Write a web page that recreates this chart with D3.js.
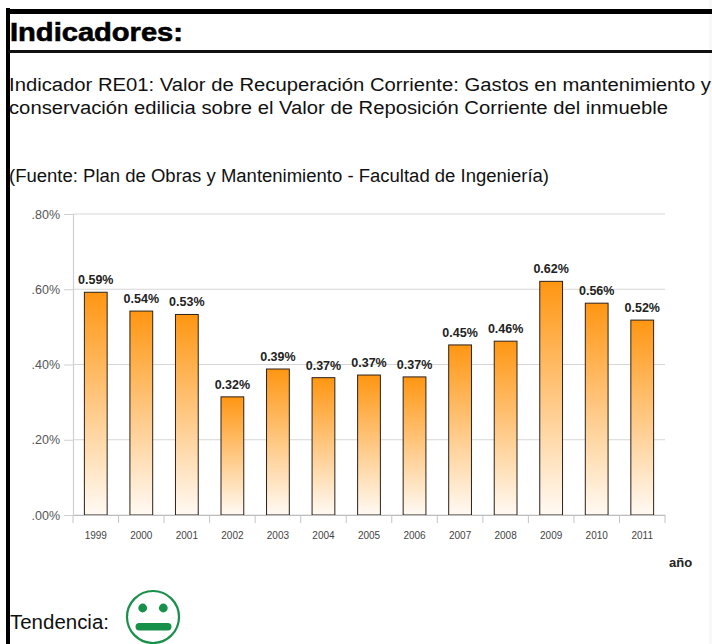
<!DOCTYPE html>
<html>
<head>
<meta charset="utf-8">
<script src="https://cdn.jsdelivr.net/npm/d3@7"></script>
<style>
  html, body { margin: 0; padding: 0; background: #fff; }
  text { font-family: "Liberation Sans", Arial, sans-serif; }
</style>
</head>
<body>
<div id="chart"></div>
<script>
const years = ["1999","2000","2001","2002","2003","2004","2005","2006","2007","2008","2009","2010","2011"];
const values = [0.592,0.542,0.533,0.314,0.388,0.365,0.372,0.367,0.452,0.462,0.621,0.563,0.518];
const valueLabels = ["0.59%","0.54%","0.53%","0.32%","0.39%","0.37%","0.37%","0.37%","0.45%","0.46%","0.62%","0.56%","0.52%"];
const yTicks = [0,0.2,0.4,0.6,0.8];
const yTickLabels = [".00%",".20%",".40%",".60%",".80%"];

const width = 712, height = 644;
const plot = { left: 73, right: 665, top: 214, bottom: 515 };

const svg = d3.select("#chart").append("svg")
  .attr("width", width)
  .attr("height", height)
  .style("display", "block");

// page frame
svg.append("rect").attr("x", 709).attr("y", 0).attr("width", 3).attr("height", height).attr("fill", "#f8f8f8");
svg.append("rect").attr("x", 6).attr("y", 9).attr("width", 706).attr("height", 5).attr("fill", "#000");
svg.append("rect").attr("x", 6).attr("y", 8).attr("width", 4).attr("height", 636).attr("fill", "#000");
svg.append("rect").attr("x", 8).attr("y", 50).attr("width", 704).attr("height", 3).attr("fill", "#111");

// heading and body text are stretched a bit wider than the font's own width
svg.append("text").attr("x", 10).attr("y", 41)
  .attr("font-size", 25).attr("font-weight", "bold").attr("fill", "#000")
  .attr("stroke", "#000").attr("stroke-width", 0.6)
  .attr("textLength", 173).attr("lengthAdjust", "spacingAndGlyphs")
  .text("Indicadores:");

const bodyLines = [
  { y: 91, len: 702, t: "Indicador RE01: Valor de Recuperación Corriente: Gastos en mantenimiento y" },
  { y: 114, len: 659, t: "conservación edilicia sobre el Valor de Reposición Corriente del inmueble" },
  { y: 182, len: 540, t: "(Fuente: Plan de Obras y Mantenimiento - Facultad de Ingeniería)" }
];
svg.selectAll("text.body").data(bodyLines).enter().append("text")
  .attr("class", "body")
  .attr("x", 9).attr("y", d => d.y)
  .attr("font-size", 18).attr("fill", "#111")
  .attr("textLength", d => d.len).attr("lengthAdjust", "spacingAndGlyphs")
  .text(d => d.t);

// scales
const x = d3.scaleBand().domain(years)
  .range([plot.left, plot.right])
  .paddingInner(0.5).paddingOuter(0.25);
const y = d3.scaleLinear().domain([0, 0.8]).range([plot.bottom, plot.top]);

// gradient for the bars
const grad = svg.append("defs").append("linearGradient")
  .attr("id", "barFill").attr("x1", 0).attr("y1", 0).attr("x2", 0).attr("y2", 1);
grad.append("stop").attr("offset", "0%").attr("stop-color", "#ff9612");
grad.append("stop").attr("offset", "100%").attr("stop-color", "#fffaf4");

// y axis with gridlines
const yAxis = svg.append("g")
  .attr("transform", `translate(${plot.left},0)`)
  .call(d3.axisLeft(y).tickValues(yTicks).tickSize(9).tickPadding(4)
    .tickFormat((d, i) => yTickLabels[i]));
yAxis.select(".domain").attr("stroke", "#cfcfcf").attr("stroke-width", 1.2);
yAxis.selectAll(".tick line").attr("stroke", "#cfcfcf");
yAxis.selectAll(".tick text")
  .attr("font-family", "Liberation Sans, Arial, sans-serif")
  .attr("font-size", 12.5).attr("fill", "#555");

svg.append("g").selectAll("line").data(yTicks).enter().append("line")
  .attr("x1", plot.left).attr("x2", plot.right)
  .attr("y1", d => y(d)).attr("y2", d => y(d))
  .attr("stroke", "#d6d6d6").attr("stroke-width", 1);

// bars
svg.append("g").selectAll("rect").data(years).enter().append("rect")
  .attr("x", d => x(d))
  .attr("y", (d, i) => y(values[i]))
  .attr("width", x.bandwidth())
  .attr("height", (d, i) => y(0) - y(values[i]))
  .attr("fill", "url(#barFill)")
  .attr("stroke", "#2b2118").attr("stroke-width", 1);

// value labels
svg.append("g").selectAll("text").data(years).enter().append("text")
  .attr("x", d => x(d) + x.bandwidth() / 2)
  .attr("y", (d, i) => y(values[i]) - 8)
  .attr("text-anchor", "middle")
  .attr("font-size", 12.5).attr("font-weight", "bold").attr("fill", "#222")
  .text((d, i) => valueLabels[i]);

// x axis
const xAxis = svg.append("g")
  .attr("transform", `translate(0,${plot.bottom})`)
  .call(d3.axisBottom(x).tickSize(0).tickPadding(17));
xAxis.select(".domain").attr("stroke", "#bdbdbd").attr("stroke-width", 1.2);
xAxis.selectAll(".tick text")
  .attr("font-family", "Liberation Sans, Arial, sans-serif")
  .attr("font-size", 10).attr("fill", "#444");

// tick marks sit on the category boundaries
xAxis.selectAll("line.sep").data(d3.range(years.length + 1)).enter().append("line")
  .attr("class", "sep")
  .attr("x1", i => plot.left + i * x.step()).attr("x2", i => plot.left + i * x.step())
  .attr("y1", 0).attr("y2", 8)
  .attr("stroke", "#c4c4c4");

svg.append("text").attr("x", 669).attr("y", 567)
  .attr("font-size", 13).attr("font-weight", "bold").attr("fill", "#222")
  .text("año");

// trend
svg.append("text").attr("x", 10).attr("y", 629)
  .attr("font-size", 20).attr("fill", "#111")
  .attr("textLength", 99).attr("lengthAdjust", "spacingAndGlyphs")
  .text("Tendencia:");

const green = "#17904a";
const face = svg.append("g").attr("transform", "translate(153,617)");
face.append("circle").attr("r", 26).attr("fill", "#fff").attr("stroke", green).attr("stroke-width", 2.2);
face.selectAll("circle.eye").data([-10.3, 10.3]).enter().append("circle")
  .attr("class", "eye").attr("cx", d => d).attr("cy", -9).attr("r", 4.4).attr("fill", green);
face.append("rect").attr("x", -17.5).attr("y", 6).attr("width", 36).attr("height", 7.5).attr("rx", 3.7).attr("fill", green);
</script>
</body>
</html>
